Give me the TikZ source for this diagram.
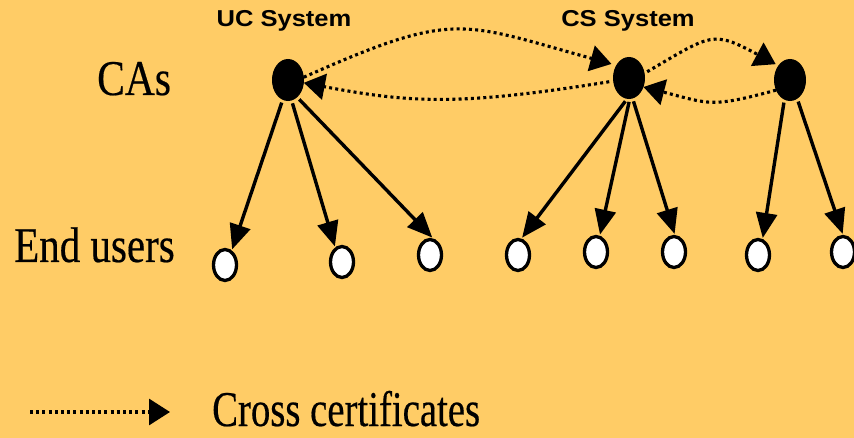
\documentclass[tikz,border=0pt]{standalone}
\usepackage{graphicx}
\usepackage{fontspec}
\setmainfont{Liberation Serif}
\newfontfamily\labelsans{Liberation Sans}
\newfontfamily\bigserif[FakeBold=0.4]{Liberation Serif}
\usetikzlibrary{arrows.meta,shapes.geometric}
\definecolor{bg}{HTML}{FFCC66}
\begin{document}
\begin{tikzpicture}[x=1pt,y=-1pt,
  ca/.style={ellipse,fill=black,draw=black,line width=1pt,minimum width=31pt,minimum height=41pt,inner sep=0pt},
  user/.style={ellipse,fill=white,draw=black,line width=3.3pt,minimum width=23pt,minimum height=31pt,inner sep=0pt},
  link/.style={line width=3.4pt,-{Triangle[length=25pt,width=21pt]},shorten <=3pt,shorten >=1pt},
  cross/.style={line width=3.1pt,dash pattern=on 3pt off 3.2pt,-{Triangle[length=21pt,width=26pt]}},
  sys/.style={font=\labelsans\bfseries\fontsize{23}{23}\selectfont,inner sep=0pt,anchor=base},
  big/.style={font=\bigserif\fontsize{50}{50}\selectfont,inner sep=0pt,anchor=base west}]
\fill[bg] (0,0) rectangle (854,438);
\useasboundingbox (0,0) rectangle (854,438);

% labels
\node[sys] (ucsys) at (284,27) {\scalebox{1.11}[1]{UC System}};
\node[sys] (cssys) at (628,27) {\scalebox{1.11}[1]{CS System}};
\node[big] (cas) at (97,95) {\scalebox{0.83}[1]{CAs}};
\node[big] (eu) at (14,262) {\scalebox{0.82}[1]{End users}};
\node[big] (cc) at (212,426) {\scalebox{0.775}[1]{Cross certificates}};

% CAs
\node[ca] (uc) at (288,80) {};
\node[ca] (cs) at (629,78) {};
\node[ca] (ca3) at (790,80) {};

% end users
\node[user] (u1) at (225,265) {};
\node[user] (u2) at (342,262) {};
\node[user] (u3) at (430,255) {};
\node[user] (u4) at (518,255) {};
\node[user] (u5) at (596,252) {};
\node[user] (u6) at (674,252) {};
\node[user] (u7) at (758,255) {};
\node[user] (u8) at (843,252) {};

% certificates to end users
\draw[link] (uc.-105) -- (u1.65);
\draw[link] (uc.-80) -- (u2.115);
\draw[link] (uc.-62) -- (u3.80);
\draw[link] (cs.-95) -- (u4.78);
\draw[link] (cs.-88) -- (u5.77);
\draw[link] (cs.-80) -- (u6.87);
\draw[link] (ca3.-106) -- (u7.74);
\draw[link] (ca3.-69) -- (u8.90);

% cross certificates
\draw[cross,shorten >=5pt] (uc.10) .. controls (455,10) and (460,22) .. (cs.135);
\draw[cross,shorten <=4pt] (cs.191) .. controls (459,106) and (410,103) .. (uc.-10);
\draw[cross,shorten <=3pt,shorten >=3pt] (cs.17) .. controls (712,34) and (712,30) .. (ca3.129);
\draw[cross] (ca3.216) .. controls (710,108) and (710,104) .. (cs.-32);

% legend
\coordinate (l1) at (30,412);
\coordinate (l2) at (170,412);
\draw[cross] (l1) -- (l2);
\end{tikzpicture}
\end{document}
